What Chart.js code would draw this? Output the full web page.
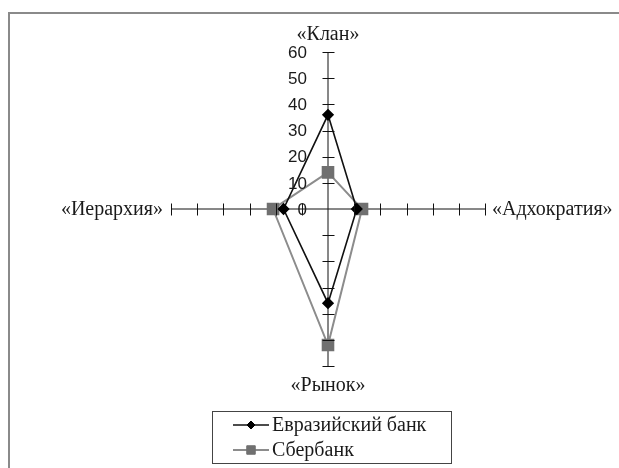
<!DOCTYPE html>
<html>
<head>
<meta charset="utf-8">
<script src="https://cdn.jsdelivr.net/npm/chart.js@4/dist/chart.umd.min.js"></script>
<style>
    html, body { margin: 0; padding: 0; background: #fff; }
    #wrap { position: relative; width: 619px; height: 468px; }
</style>
</head>
<body>
<div id="wrap"><canvas id="cultureChart"></canvas></div>
<script>
const CATEGORIES = ['«Клан»', '«Адхократия»', '«Рынок»', '«Иерархия»'];
const EURASIAN = [36, 11, 36, 17];
const SBERBANK = [14, 13, 52, 21];
const SERIES_NAMES = ['Евразийский банк', 'Сбербанк'];
const TICK_VALUES = [0, 10, 20, 30, 40, 50, 60];

const SERIF = '"Liberation Serif", "Times New Roman", serif';
const SANS = '"Liberation Sans", Arial, sans-serif';

// axis ticks, tick labels, category labels, frame and boxed legend
const crossDecor = {
    id: 'crossDecor',
    beforeDraw(chart) {
        const { ctx } = chart;
        ctx.save();
        ctx.strokeStyle = '#8a8a8a';
        ctx.lineWidth = 2;
        ctx.strokeRect(9, 13, chart.width + 20, chart.height + 20);
        ctx.restore();
    },
    afterDatasetsDraw(chart) {
        const { ctx } = chart;
        const r = chart.scales.r;
        ctx.save();

        // tick marks on every axis
        ctx.strokeStyle = '#111';
        ctx.lineWidth = 1;
        CATEGORIES.forEach((_, i) => {
            TICK_VALUES.slice(1).forEach((v) => {
                const p = r.getPointPositionForValue(i, v);
                const dx = -Math.sin(p.angle) * 6;
                const dy = Math.cos(p.angle) * 6;
                ctx.beginPath();
                ctx.moveTo(Math.round(p.x + dx) + 0.5, Math.round(p.y + dy) + 0.5);
                ctx.lineTo(Math.round(p.x - dx) + 0.5, Math.round(p.y - dy) + 0.5);
                ctx.stroke();
            });
        });

        // value labels along the top axis
        ctx.fillStyle = '#1a1a1a';
        ctx.font = '17px ' + SANS;
        ctx.textAlign = 'right';
        ctx.textBaseline = 'middle';
        TICK_VALUES.forEach((v) => {
            const p = r.getPointPositionForValue(0, v);
            ctx.fillText(String(v), p.x - 21, p.y + 1);
        });

        // category labels at the ends of the axes
        ctx.font = '20px ' + SERIF;
        CATEGORIES.forEach((label, i) => {
            const p = r.getPointPosition(i, r.drawingArea);
            const c = Math.cos(p.angle), s = Math.sin(p.angle);
            if (Math.abs(c) < 0.5) {
                ctx.textAlign = 'center';
                ctx.fillText(label, p.x, p.y + (s < 0 ? -17 : 20));
            } else {
                ctx.textAlign = c > 0 ? 'left' : 'right';
                ctx.fillText(label, p.x + (c > 0 ? 7 : -8), p.y + 1);
            }
        });

        // legend box under the chart
        const left = r.xCenter - 116;
        const top = 411;
        ctx.strokeStyle = '#444';
        ctx.lineWidth = 1;
        ctx.strokeRect(left + 0.5, top + 0.5, 239, 52);
        chart.data.datasets.forEach((ds, k) => {
            const y = top + 14 + k * 25;
            ctx.strokeStyle = ds.borderColor;
            ctx.lineWidth = ds.borderWidth;
            ctx.beginPath();
            ctx.moveTo(left + 21, y);
            ctx.lineTo(left + 57, y);
            ctx.stroke();
            ctx.fillStyle = ds.pointBackgroundColor;
            ctx.strokeStyle = ds.pointBorderColor;
            ctx.lineWidth = 1;
            Chart.helpers.drawPoint(ctx, { pointStyle: ds.pointStyle, radius: ds.pointRadius * 0.8, rotation: 0, borderWidth: 1 }, left + 39, y);
            ctx.fillStyle = '#1a1a1a';
            ctx.font = '20px ' + SERIF;
            ctx.textAlign = 'left';
            ctx.textBaseline = 'middle';
            ctx.fillText(ds.label, left + 60, y + 1);
        });
        ctx.restore();
    },
};

new Chart(document.getElementById('cultureChart'), {
    type: 'radar',
    data: {
        labels: CATEGORIES,
        datasets: [
            {
                label: SERIES_NAMES[0], data: EURASIAN,
                borderColor: '#111', borderWidth: 1.6, fill: false,
                pointStyle: 'rectRot', pointRadius: 5,
                pointBackgroundColor: '#000', pointBorderColor: '#000',
            },
            {
                label: SERIES_NAMES[1], data: SBERBANK,
                borderColor: '#8c8c8c', borderWidth: 2, fill: false,
                pointStyle: 'rect', pointRadius: 7.5,
                pointBackgroundColor: '#707070', pointBorderColor: '#707070',
            },
        ],
    },
    options: {
        responsive: true,
        maintainAspectRatio: false,
        animation: false,
        layout: { padding: { top: 52, bottom: 102, left: 171, right: 134 } },
        elements: { line: { tension: 0 } },
        scales: {
            r: {
                min: 0, max: 60,
                ticks: { display: false, stepSize: 10 },
                grid: { display: false },
                angleLines: { display: true, color: '#111', lineWidth: 1 },
                pointLabels: { display: false },
            },
        },
        plugins: { legend: { display: false }, tooltip: { enabled: false } },
    },
    plugins: [crossDecor],
});
</script>
</body>
</html>
